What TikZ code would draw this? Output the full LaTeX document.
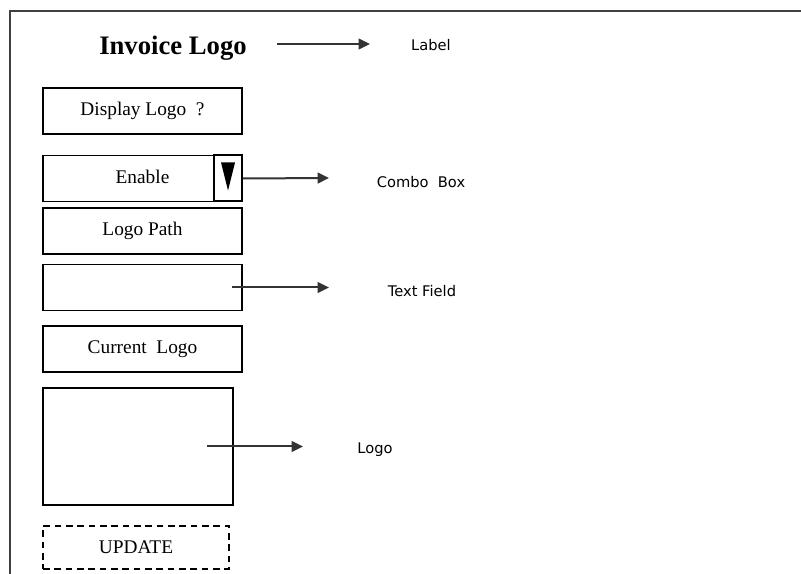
\documentclass[tikz,border=0pt]{standalone}
\usepackage{fontspec}
\setmainfont{Liberation Serif}
\newfontfamily\notefont{DejaVu Sans}
\usetikzlibrary{arrows.meta}
\begin{document}
\begin{tikzpicture}[x=0.75pt,y=-0.75pt,
    box/.style={draw,line width=1.2pt,minimum width=149.25pt,minimum height=34.5pt,
      inner sep=0pt,font=\fontsize{14.5}{16}\selectfont},
    note/.style={inner sep=0pt,font=\notefont\fontsize{11}{13}\selectfont},
    arr/.style={-{Triangle[length=8.5pt,width=8pt]},line width=1.5pt,black!80}]
      \useasboundingbox (0,0) rectangle (801,574);
      % frame
      \draw[line width=2pt,black!75] (801,11) -- (10,11) -- (10,574);
      % form
      \draw
        (173,48) node[font=\bfseries\fontsize{20}{22}\selectfont] (title){Invoice Logo}
        (142.5,111) node[box] (display){Display Logo \ ?}
        (142.5,178.5) node[box] (enable){\raisebox{3pt}{Enable}}
        (228,178.5) node[draw,line width=1.5pt,minimum width=21pt,minimum height=34.5pt] (drop){}
        (142.5,231) node[box] (path){\raisebox{3pt}{Logo Path}}
        (142.5,287.5) node[box] (txt){}
        (142.5,349) node[box] (current){\raisebox{2pt}{Current \ Logo}}
        (138,446.5) node[box,minimum width=142.5pt,minimum height=87.75pt] (logo){}
        (136,547.5) node[box,dash pattern=on 5pt off 3.5pt,minimum width=139.5pt,
          minimum height=32.25pt] (update){UPDATE};
      \fill ([shift={(-7,8)}]drop.north) -- ([shift={(7,8)}]drop.north)
        -- ([shift={(0,-12)}]drop.south) -- cycle;
      % notes
      \draw
        (431,45) node[note] (lbl){Label}
        (421,182) node[note] (combo){Combo \ Box}
        (422,291) node[note] (field){Text Field}
        (375,450) node[note] (pic){Logo};
      \coordinate (lbl-in) at (370,44);
      \coordinate (combo-in) at (329,178);
      \coordinate (field-in) at (329,287.5);
      \coordinate (pic-in) at (303,446.5);
      \begin{scope}[arr]
        \draw ([xshift=19.5pt]title.east |- lbl-in) -- (lbl-in);
        \draw (drop.east) -- (combo-in);
        \draw ([xshift=-8.25pt]txt.east) -- (field-in);
        \draw ([xshift=-20.25pt]logo.east) -- (pic-in);
      \end{scope}
    \end{tikzpicture}
\end{document}
